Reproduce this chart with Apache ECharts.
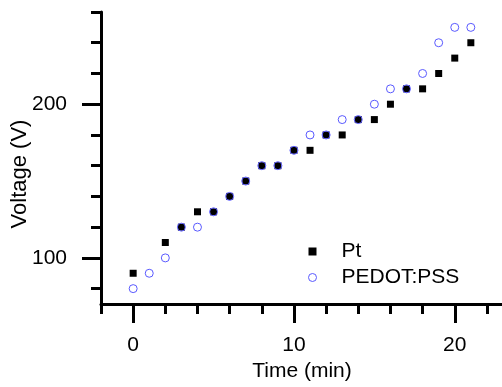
<!DOCTYPE html>
<html>
<head>
<meta charset="utf-8">
<script src="https://cdn.jsdelivr.net/npm/echarts@6/dist/echarts.min.js"></script>
<style>html,body{margin:0;padding:0;background:#fff;}#c{width:502px;height:387px;}</style>
</head>
<body>
<div id="c"></div>
<script>
var ptTime = [0, 2, 3, 4, 5, 6, 7, 8, 9, 10, 11, 12, 13, 14, 15, 16, 17, 18, 19, 20, 21];
var ptVoltage = [90, 110, 120, 130, 130, 140, 150, 160, 160, 170, 170, 180, 180, 190, 190, 200, 210, 210, 220, 230, 240];
var pedotTime = [0, 1, 2, 3, 4, 5, 6, 7, 8, 9, 10, 11, 12, 13, 14, 15, 16, 17, 18, 19, 20, 21];
var pedotVoltage = [80, 90, 100, 120, 120, 130, 140, 150, 160, 160, 170, 180, 180, 190, 190, 200, 210, 210, 220, 240, 250, 250];
var xMajorTicks = [0, 10, 20];
var xMinorTicks = [-2, 2, 4, 6, 8, 12, 14, 16, 18, 22];
var yMajorTicks = [100, 200];
var yMinorTicks = [80, 120, 140, 160, 180, 220, 240, 260];
var seriesNames = ['Pt', 'PEDOT:PSS'];

function pairs(xs, ys) { return xs.map(function (x, i) { return [x, ys[i]]; }); }

var font = 'Arial, "Liberation Sans", sans-serif';
var fs = 21;
var blue = '#5a5aff';
var lineStyle = { color: '#000', width: 3 };
var chart = echarts.init(document.getElementById('c'), null, { renderer: 'canvas' });
chart.setOption({
  animation: false,
  backgroundColor: '#fff',
  grid: { left: 101, top: 12, width: 402, bottom: 83, containLabel: false, outerBoundsMode: 'none' },
  legend: {
    orient: 'vertical',
    left: 308, top: 241,
    padding: 0,
    itemGap: 5,
    itemWidth: 8, itemHeight: 8,
    textStyle: { fontFamily: font, fontSize: fs, color: '#000', padding: [0, 0, 0, 20] },
    data: [
      { name: seriesNames[0], icon: 'rect', itemStyle: { color: '#000', opacity: 1 } },
      { name: seriesNames[1], icon: 'circle', itemStyle: { color: '#fff', borderColor: blue, borderWidth: 1, opacity: 1 } }
    ]
  },
  xAxis: [{
    type: 'value', min: -2, max: 23, position: 'bottom',
    name: 'Time (min)', nameLocation: 'middle', nameGap: 57, nameMoveOverlap: false,
    nameTextStyle: { fontFamily: font, fontSize: fs, color: '#000' },
    axisLine: { show: true, onZero: false, lineStyle: lineStyle },
    axisTick: { show: true, length: 19, lineStyle: lineStyle, customValues: xMajorTicks },
    axisLabel: { show: true, margin: 31, fontFamily: font, fontSize: fs, color: '#000', customValues: xMajorTicks },
    splitLine: { show: false }
  }, {
    type: 'value', min: -2, max: 23, position: 'bottom',
    axisLine: { show: false, onZero: false },
    axisTick: { show: true, length: 10, lineStyle: lineStyle, customValues: xMinorTicks },
    axisLabel: { show: false },
    splitLine: { show: false }
  }],
  yAxis: [{
    type: 'value', min: 70, max: 260, position: 'left',
    name: 'Voltage (V)', nameLocation: 'middle', nameGap: 70, nameMoveOverlap: false,
    nameTextStyle: { fontFamily: font, fontSize: 22, color: '#000', padding: [0, 32, 0, 0] },
    axisLine: { show: true, onZero: false, lineStyle: lineStyle },
    axisTick: { show: true, length: 19, lineStyle: lineStyle, customValues: yMajorTicks },
    axisLabel: { show: true, margin: 34, fontFamily: font, fontSize: fs, color: '#000', customValues: yMajorTicks },
    splitLine: { show: false }
  }, {
    type: 'value', min: 70, max: 260, position: 'left',
    axisLine: { show: false, onZero: false },
    axisTick: { show: true, length: 10, lineStyle: lineStyle, customValues: yMinorTicks },
    axisLabel: { show: false },
    splitLine: { show: false }
  }],
  series: [{
    name: seriesNames[0], type: 'scatter', xAxisIndex: 0, yAxisIndex: 0,
    symbol: 'rect', symbolSize: 7,
    itemStyle: { color: '#000', opacity: 1 },
    data: pairs(ptTime, ptVoltage)
  }, {
    name: seriesNames[1], type: 'scatter', xAxisIndex: 0, yAxisIndex: 0,
    symbol: 'circle', symbolSize: 8,
    itemStyle: { color: 'rgba(0,0,0,0)', borderColor: blue, borderWidth: 1, opacity: 1 },
    data: pairs(pedotTime, pedotVoltage)
  }]
});
</script>
</body>
</html>
